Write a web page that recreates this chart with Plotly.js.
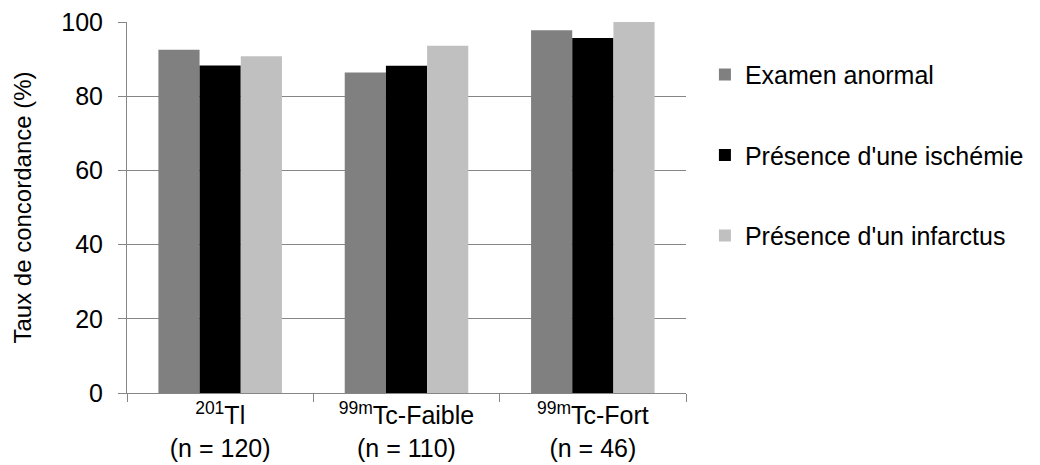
<!DOCTYPE html>
<html>
<head>
<meta charset="utf-8">
<script src="https://cdn.plot.ly/plotly-3.0.1.min.js"></script>
<style>html,body{margin:0;padding:0;background:#fff;}#chart{width:1040px;height:465px;}</style>
</head>
<body>
<div id="chart"></div>
<script>
const categories = ["<sup>201</sup>Tl<br>(n = 120)", "<sup>99m</sup>Tc-Faible<br>(n = 110)", "<sup>99m</sup>Tc-Fort<br>(n = 46)"];
const seriesNames = ["Examen anormal", "Présence d'une ischémie", "Présence d'un infarctus"];
const examenAnormal = [92.5, 86.4, 97.8];
const ischemie = [88.3, 88.2, 95.7];
const infarctus = [90.8, 93.6, 100];
const yTicks = [0, 20, 40, 60, 80, 100];

const colors = ["#808080", "#000000", "#C0C0C0"];
const values = [examenAnormal, ischemie, infarctus];
const FAM = "Liberation Sans, Arial, sans-serif";
function f(size) { return {family: FAM, size: size, color: "#000"}; }

const data = values.map((v, i) => ({
  type: "bar",
  x: categories,
  y: v,
  name: seriesNames[i],
  legendgroup: "g" + i,
  marker: {color: colors[i], line: {width: 0}},
  hoverinfo: "y"
}));

const layout = {
  width: 1040,
  height: 465,
  margin: {l: 127, r: 353, t: 22, b: 72, pad: 0},
  paper_bgcolor: "#fff",
  plot_bgcolor: "#fff",
  font: f(25),
  barmode: "group",
  bargap: 0.337,
  bargroupgap: 0,
  showlegend: true,
  legend: {
    x: 1.032, xanchor: "left",
    y: 0.92, yanchor: "top",
    font: f(25),
    tracegroupgap: 45,
    itemwidth: 30,
    bgcolor: "rgba(0,0,0,0)"
  },
  xaxis: {
    type: "category",
    showline: true,
    linecolor: "#868686",
    linewidth: 1,
    ticks: "outside",
    tickson: "boundaries",
    ticklen: 8,
    tickcolor: "#868686",
    showgrid: false,
    tickfont: f(25),
    automargin: false
  },
  yaxis: {
    range: [0, 100],
    tickvals: yTicks,
    ticktext: yTicks.map(String),
    showline: true,
    linecolor: "#868686",
    linewidth: 1,
    ticks: "outside",
    ticklen: 8,
    tickcolor: "#868686",
    showgrid: true,
    gridcolor: "#868686",
    gridwidth: 1,
    zeroline: false,
    tickfont: f(25),
    ticklabelstandoff: 10,
    automargin: false,
    title: {text: "Taux de concordance (%)", font: f(24), standoff: 22}
  }
};

Plotly.newPlot("chart", data, layout, {displayModeBar: false, staticPlot: true});
</script>
</body>
</html>
